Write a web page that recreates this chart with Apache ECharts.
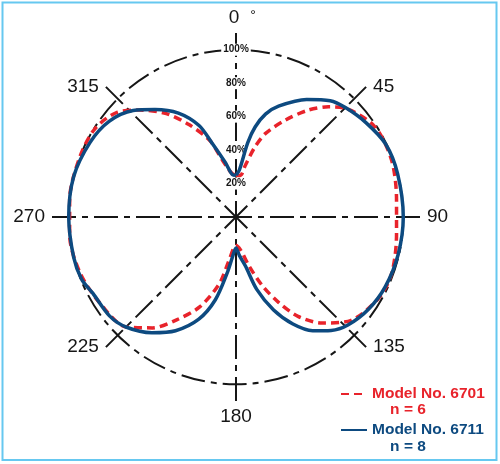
<!DOCTYPE html>
<html>
<head>
<meta charset="utf-8">
<title>Polar response</title>
<script src="https://cdn.jsdelivr.net/npm/echarts@6/dist/echarts.min.js"></script>
<style>
  html, body { margin: 0; padding: 0; background: #fff; }
  #main { width: 500px; height: 464px; }
</style>
</head>
<body>
<div id="main"></div>
<script>
// angle in degrees (clockwise from top) and relative response in %
const angles6701 = [0, 6, 10, 15, 19.5, 27, 34, 40, 45.5, 57, 70, 84, 96, 110, 120, 133, 141, 148, 153.5, 159, 165, 172, 180,
  189, 194, 202, 210, 217, 225, 236, 250, 264, 276, 291, 302, 311, 318, 326, 333, 341, 346.5, 351, 355, 360]
const values6701 = [25, 25, 31, 43, 53, 65, 77, 86, 92.5, 99, 99, 96.5, 96.5, 99, 98, 91.5, 81.5, 70, 57, 44, 30.5, 20, 17,
  26, 41, 58, 71, 83, 93, 96, 99, 100, 100, 100, 99.5, 95, 86, 74.5, 62, 48.5, 35, 29, 26, 25]

const angles6711 = [0, 4, 9, 12, 16, 21, 31, 39, 45, 54, 64, 75, 90, 103, 115, 125, 134, 140, 146, 152, 158, 164, 169, 175, 180,
  185, 189, 194, 200, 208, 216, 225, 232, 242, 248, 256, 270, 284, 297, 307, 316, 323, 331, 338, 342, 349, 355, 360]
const values6711 = [25, 28, 45, 55, 64, 71, 82, 89.5, 92.5, 96, 99.5, 100, 100, 99.5, 98.5, 96.5, 93, 88.5, 82, 72.5, 60, 45, 30, 23, 18.5,
  24, 34, 51, 65, 77, 85.5, 93, 96, 97, 99.5, 100, 100, 100, 98, 95, 88.5, 80.5, 71, 59, 46.5, 33, 25.5, 25]

const angleTicks = [0, 45, 90, 135, 180, 225, 270, 315]
const angleLabels = ['0', '45', '90', '135', '180', '225', '270', '315']
const seriesNames = ['Model No. 6701', 'Model No. 6711']
const sampleLabels = ['n = 6', 'n = 8']
const colors = ['#e8232b', '#0d4a80']

const R_MAX = 110
const FONT = '"Liberation Sans", Arial, sans-serif'
const INK = '#161616'
const dashDot = [24, 6, 6, 6]

function pairs(values, angles) {
  return values.map((v, i) => [v, angles[i]])
}

const chart = echarts.init(document.getElementById('main'))

chart.setOption({
  animation: false,
  backgroundColor: '#fff',
  polar: {
    center: [236, 217],
    radius: 184
  },
  angleAxis: {
    type: 'value',
    min: 0,
    max: 360,
    interval: 45,
    startAngle: 90,
    clockwise: true,
    z: 0,
    axisLine: { show: false },
    axisTick: { show: false },
    axisLabel: { show: false },
    splitLine: {
      show: true,
      lineStyle: { color: INK, width: 2, type: dashDot }
    }
  },
  radiusAxis: {
    type: 'value',
    min: 0,
    max: R_MAX,
    interval: 20,
    z: 1,
    axisLine: { show: false },
    axisTick: { show: false },
    axisLabel: {
      margin: 0,
      align: 'center',
      verticalAlign: 'middle',
      showMinLabel: false,
      showMaxLabel: false,
      formatter: v => (v > 0 && v <= 100 ? v + '%' : ''),
      fontFamily: FONT,
      fontSize: 10,
      fontWeight: 'bold',
      color: INK,
      backgroundColor: '#fff',
      padding: [1, 2]
    },
    splitLine: {
      show: true,
      lineStyle: {
        // only the 100 % ring is drawn
        color: ['transparent', 'transparent', 'transparent', 'transparent', 'transparent', INK, 'transparent'],
        width: 2,
        type: dashDot
      }
    }
  },
  legend: {
    orient: 'vertical',
    left: 335,
    top: 381,
    itemWidth: 26,
    itemHeight: 12,
    itemGap: 20,
    itemStyle: { opacity: 0 },
    textStyle: { fontFamily: FONT, fontSize: 15.5, fontWeight: 'bold' },
    data: seriesNames.map((n, i) => ({ name: n, textStyle: { color: colors[i] } }))
  },
  series: [
    {
      type: 'line',
      name: seriesNames[0],
      coordinateSystem: 'polar',
      data: pairs(values6701, angles6701),
      symbol: 'none',
      smooth: 0.3,
      itemStyle: { color: colors[0] },
      lineStyle: { color: colors[0], width: 3.5, type: [8, 5] }
    },
    {
      type: 'line',
      name: seriesNames[1],
      coordinateSystem: 'polar',
      data: pairs(values6711, angles6711),
      symbol: 'none',
      smooth: 0.3,
      itemStyle: { color: colors[1] },
      lineStyle: { color: colors[1], width: 3.5 }
    }
  ]
})

// angle labels placed beside the spoke ends
const gap = 7
const graphics = angleTicks.map((a, i) => {
  const p = chart.convertToPixel({ polarIndex: 0 }, [R_MAX, a])
  const s = Math.sin(a * Math.PI / 180)
  const c = Math.cos(a * Math.PI / 180)
  const onVertical = Math.abs(s) < 0.3
  const align = onVertical ? 'center' : (s > 0 ? 'left' : 'right')
  const vAlign = onVertical ? (c > 0 ? 'bottom' : 'top') : 'middle'
  let x = p[0]
  let y = p[1]
  if (align === 'left') x += gap
  if (align === 'right') x -= gap
  if (vAlign === 'bottom') y -= gap - 1
  if (vAlign === 'top') y += gap - 1
  if (a === 0) x -= 2
  return {
    type: 'text',
    x: x,
    y: y,
    style: {
      text: angleLabels[i],
      fill: INK,
      font: '19px ' + FONT,
      align: align,
      verticalAlign: vAlign
    }
  }
})

// degree mark next to the 0 label
const zeroEnd = chart.convertToPixel({ polarIndex: 0 }, [R_MAX, 0])
graphics.push({
  type: 'text',
  x: zeroEnd[0] + 17,
  y: zeroEnd[1] - 24,
  style: { text: '°', fill: INK, font: '14px ' + FONT, align: 'center', verticalAlign: 'top' }
})

// sample sizes under each legend entry
sampleLabels.forEach((t, i) => {
  graphics.push({
    type: 'text',
    x: 408,
    y: 410 + i * 37,
    style: { text: t, fill: colors[i], font: 'bold 15.5px ' + FONT, align: 'center', verticalAlign: 'middle' }
  })
})

// light blue frame
graphics.push({
  type: 'rect',
  shape: { x: 2.5, y: 2.5, width: 494, height: 457.5 },
  style: { fill: 'none', stroke: '#66c8f0', lineWidth: 2 }
})

chart.setOption({ graphic: graphics })
</script>
</body>
</html>
